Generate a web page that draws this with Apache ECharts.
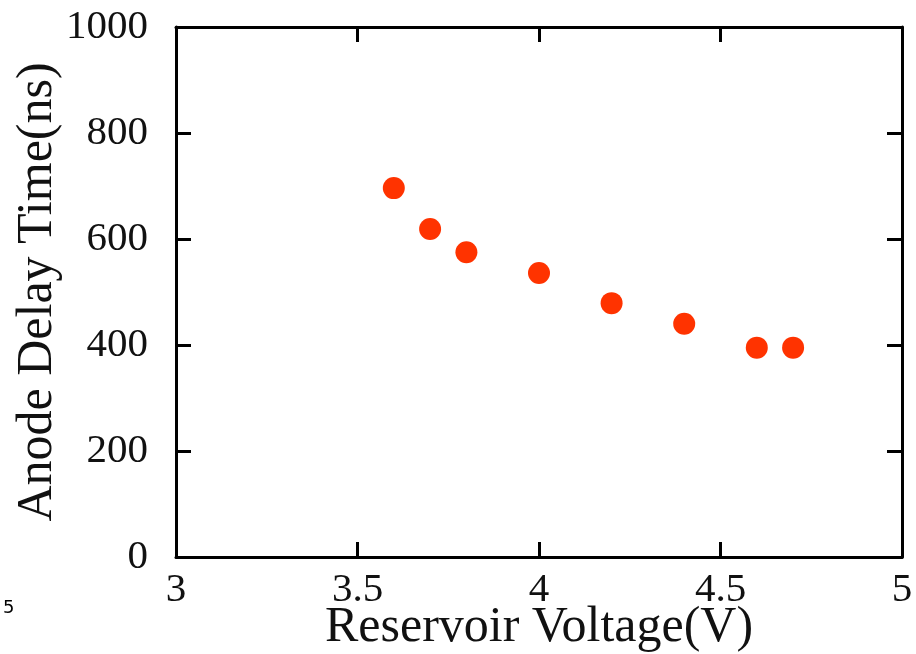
<!DOCTYPE html>
<html>
<head>
<meta charset="utf-8">
<script src="https://cdn.jsdelivr.net/npm/echarts@6/dist/echarts.min.js"></script>
<style>html,body{margin:0;padding:0;background:#fff}#c{width:916px;height:654px}</style>
</head>
<body>
<div id="c"></div>
<script>
const voltage = [3.6, 3.7, 3.8, 4.0, 4.2, 4.4, 4.6, 4.7];
const delayNs = [696, 619, 575, 536, 479, 440, 395, 395];
const xTitle = 'Reservoir Voltage(V)';
const yTitle = 'Anode Delay Time(ns)';

const font = 'Liberation Serif';
const chart = echarts.init(document.getElementById('c'));
const axisLine = { show: true, onZero: false, lineStyle: { color: '#000', width: 3 } };
const tick = { show: true, inside: true, length: 15, lineStyle: { color: '#000', width: 3 } };
chart.setOption({
  backgroundColor: '#fff',
  animation: false,
  grid: { left: 176, right: 14, top: 27, bottom: 97, outerBoundsMode: 'none', containLabel: false },
  xAxis: [{
    type: 'value', min: 3, max: 5, interval: 0.5, position: 'bottom',
    name: xTitle, nameLocation: 'middle', nameGap: 46, nameMoveOverlap: false,
    nameTextStyle: { fontFamily: font, fontSize: 50, color: '#111' },
    axisLine: axisLine, axisTick: tick, splitLine: { show: false },
    axisLabel: { fontFamily: font, fontSize: 41, color: '#111', margin: 13, formatter: v => String(v) }
  }, {
    type: 'value', min: 3, max: 5, interval: 0.5, position: 'top',
    axisLine: axisLine, axisTick: tick, splitLine: { show: false }, axisLabel: { show: false }
  }],
  yAxis: [{
    type: 'value', min: 0, max: 1000, interval: 200, position: 'left',
    name: yTitle, nameLocation: 'middle', nameGap: 113, nameMoveOverlap: false,
    nameTextStyle: { fontFamily: font, fontSize: 50, color: '#111' },
    axisLine: axisLine, axisTick: tick, splitLine: { show: false },
    axisLabel: { fontFamily: font, fontSize: 41, color: '#111', margin: 28, formatter: v => String(v) }
  }, {
    type: 'value', min: 0, max: 1000, interval: 200, position: 'right',
    axisLine: axisLine, axisTick: tick, splitLine: { show: false }, axisLabel: { show: false }
  }],
  graphic: [{
    type: 'text', left: 3, top: 599,
    style: { text: '5', fontFamily: 'DejaVu Sans', fontSize: 18, fill: '#000' }
  }],
  series: [{
    type: 'scatter',
    data: voltage.map((v, i) => [v, delayNs[i]]),
    symbol: 'circle', symbolSize: 22,
    itemStyle: { color: '#ff3300', opacity: 1 }
  }]
});
</script>
</body>
</html>
